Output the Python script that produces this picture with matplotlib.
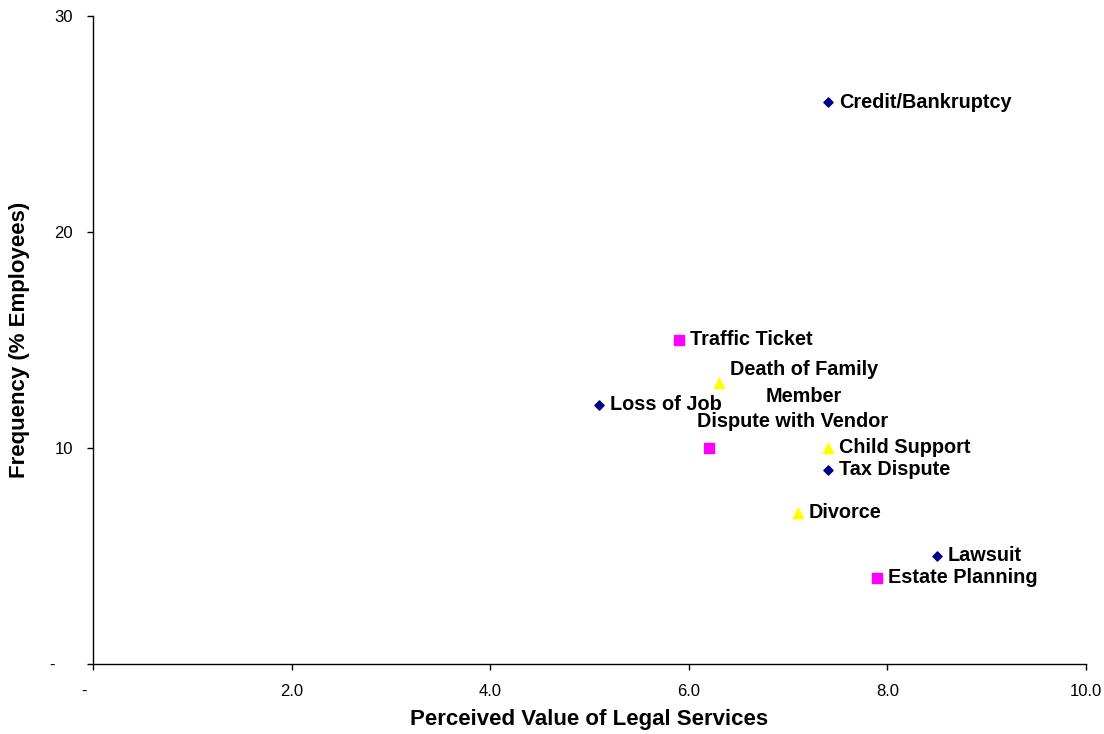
import numpy as np
import matplotlib as mpl
import matplotlib.pyplot as plt
from matplotlib.transforms import ScaledTranslation

mpl.rcParams['font.family'] = ['Liberation Sans', 'DejaVu Sans']

# data
blue_names = ["Credit/Bankruptcy", "Loss of Job", "Tax Dispute", "Lawsuit"]
blue_x = [7.4, 5.1, 7.4, 8.5]
blue_y = [26, 12, 9, 5]

pink_names = ["Traffic Ticket", "Dispute with Vendor", "Estate Planning"]
pink_x = [5.9, 6.2, 7.9]
pink_y = [15, 10, 4]

yellow_names = ["Death of Family\nMember", "Child Support", "Divorce"]
yellow_x = [6.3, 7.4, 7.1]
yellow_y = [13, 10, 7]

x_ticks = [0, 2, 4, 6, 8, 10]
x_ticklabels = ["-", "2.0", "4.0", "6.0", "8.0", "10.0"]
y_ticks = [0, 10, 20, 30]
y_ticklabels = ["-", "10", "20", "30"]

fig = plt.figure(figsize=(11.04, 7.34), dpi=100)
ax = fig.add_axes([0.0842, 0.0954, 0.8995, 0.8828])

ax.scatter(blue_x, blue_y, marker='D', s=22, color='#000080', zorder=3)
ax.scatter(pink_x, pink_y, marker='s', s=45, color='#FF00FF', zorder=3)
ax.scatter(yellow_x, yellow_y, marker='^', s=55, color='#FFFF00', zorder=3)

lbl = dict(fontsize=14.3, fontweight='bold', va='center')
for names, xs, ys in [(blue_names, blue_x, blue_y),
                      (pink_names, pink_x, pink_y),
                      (yellow_names, yellow_x, yellow_y)]:
    for n, x, y in zip(names, xs, ys):
        if n == "Dispute with Vendor":
            ax.annotate(n, (x, y), xytext=(-12, 26), textcoords='offset pixels',
                        ha='left', **lbl)
        elif "\n" in n:
            ax.annotate(n, (x, y), xytext=(11, 0), textcoords='offset pixels',
                        ha='left', multialignment='center', linespacing=1.5, **lbl)
        else:
            ax.annotate(n, (x, y), xytext=(11, 0), textcoords='offset pixels',
                        ha='left', **lbl)

ax.set_xlim(0, 10)
ax.set_ylim(0, 30)
ax.set_xticks(x_ticks)
ax.set_xticklabels(x_ticklabels)
ax.set_yticks(y_ticks)
ax.set_yticklabels(y_ticklabels)
ax.tick_params(direction='out', length=4.5, width=1, labelsize=12, pad=10)

# Excel-style zero dash sits a bit off the tick
ax.get_xticklabels()[0].set_transform(ax.get_xticklabels()[0].get_transform()
                                      + ScaledTranslation(-0.09, 0, fig.dpi_scale_trans))
ax.get_yticklabels()[0].set_transform(ax.get_yticklabels()[0].get_transform()
                                      + ScaledTranslation(-0.18, 0, fig.dpi_scale_trans))

for s in ['top', 'right']:
    ax.spines[s].set_visible(False)
for s in ['left', 'bottom']:
    ax.spines[s].set_linewidth(1)

fig.text(589.5 / 1104, 1 - 720 / 734, "Perceived Value of Legal Services",
         fontsize=16, fontweight='bold', ha='center', va='center')
fig.text(20 / 1104, 1 - 340 / 734, "Frequency (% Employees)",
         fontsize=16, fontweight='bold', ha='center', va='center', rotation=90)

fig.savefig("out.png", dpi=100)
